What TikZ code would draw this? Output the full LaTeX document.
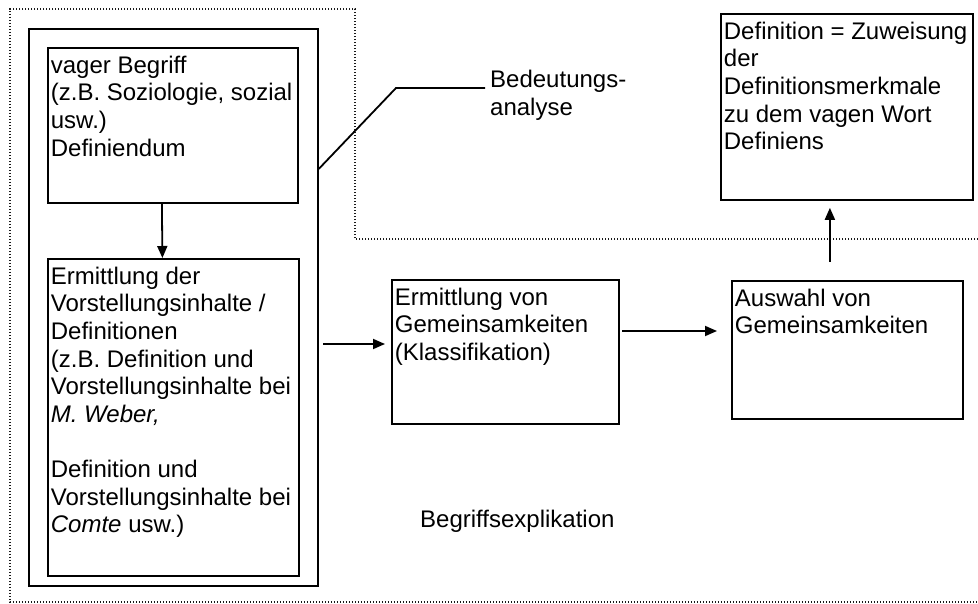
\documentclass[tikz,border=0pt]{standalone}
\usepackage{fontspec}
\setmainfont{Liberation Sans}
\usetikzlibrary{arrows.meta}
\newcommand{\feld}[3]{\parbox[t][#2][t]{#1}{\raggedright\strut #3}}

\tikzset{kasten/.style={draw, line width=1.8pt, anchor=north west, inner xsep=3pt, inner ysep=6pt}}
\tikzset{pfeil/.style={line width=1.8pt, -{Triangle[length=12pt,width=10pt]}}}

\begin{document}
\begin{tikzpicture}[x=1pt, y=-1pt, font=\fontsize{24}{27.6}\selectfont]
\tikzstyle{punkte}=[line width=1.1pt, dash pattern=on 1.1pt off 1.9pt, black!90]
\tikzstyle{linie}=[line width=1.8pt]
\tikzstyle{txt}=[inner sep=0pt, align=left]
\useasboundingbox (0,0) rectangle (978,604);
\draw[punkte] (990,239) -- (355,239) -- (355,9) -- (10,9) -- (10,602) -- (990,602);
\node[kasten, minimum width=289pt, minimum height=557pt] (ob) at (28,28) {};
\node[kasten] (a) at (47,47) {\feld{244pt}{143pt}{vager Begriff\\(z.B. Soziologie, sozial\\usw.)\\Definiendum}};
\node[kasten] (b) at (47,258) {\feld{245pt}{305pt}{Ermittlung der\\Vorstellungsinhalte /\\Definitionen\\(z.B. Definition und\\Vorstellungsinhalte bei\\\textit{M. Weber,}\\[27.6pt]Definition und\\Vorstellungsinhalte bei\\\textit{Comte} usw.)}};
\node[kasten] (c) at (391,279) {\feld{221pt}{132pt}{Ermittlung von\\Gemeinsamkeiten\\(Klassifikation)}};
\node[kasten] (d) at (731,280) {\feld{225pt}{126pt}{Auswahl von\\Gemeinsamkeiten}};
\node[kasten] (e) at (720,13) {\feld{246pt}{174pt}{Definition = Zuweisung\\der\\Definitionsmerkmale\\zu dem vagen Wort\\Definiens}};
\node[txt, anchor=base west] (bed) at (490,115.6) {Bedeutungs-\\analyse};
\node[txt, anchor=base west] (bex) at (420,527) {Begriffsexplikation};
\coordinate (p1) at (323,344);
\coordinate (p2) at (622,331);
\draw[pfeil] ([xshift=-11pt]a.south) -- ([xshift=-11pt]b.north);
\draw[pfeil, shorten >=6pt] (p1) -- (c.west |- p1);
\draw[pfeil, shorten >=14pt] (p2) -- (d.west |- p2);
\draw[pfeil] ([xshift=-17.5pt,yshift=18pt]d.north) -- ([xshift=-17pt,yshift=-7pt]e.south);
\draw[linie] ([yshift=138.5pt]ob.east) -- (396,88) -- ([xshift=-5pt,yshift=27.6pt]bed.base west);
\end{tikzpicture}
\end{document}
